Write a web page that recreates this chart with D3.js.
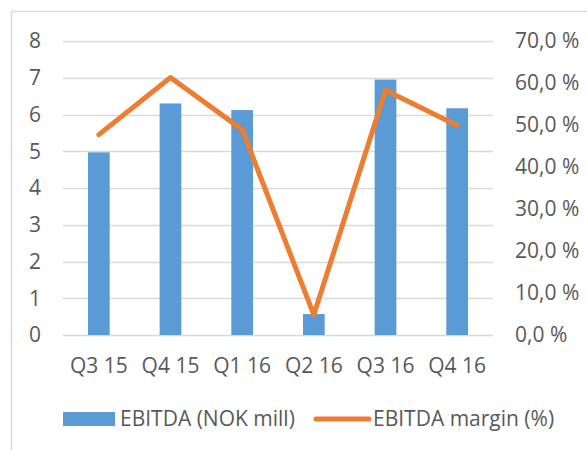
<!DOCTYPE html>
<html>
<head>
<meta charset="utf-8">
<script src="https://cdn.jsdelivr.net/npm/d3@7"></script>
<style>
  body { margin: 0; background: #fff; }
  svg { display: block; }
  text { font-family: "Open Sans", sans-serif; fill: #595959; }
</style>
</head>
<body>
<svg id="chart" width="587" height="450"></svg>
<script>
// data
const quarters = ['Q3 15', 'Q4 15', 'Q1 16', 'Q2 16', 'Q3 16', 'Q4 16'];
const ebitda = [4.97, 6.3, 6.12, 0.57, 6.95, 6.17];          // NOK mill
const margin = [47.7, 61.3, 48.9, 4.8, 58.3, 49.9];          // percent
const leftTicks = [0, 1, 2, 3, 4, 5, 6, 7, 8];
const rightTicks = [0, 10, 20, 30, 40, 50, 60, 70];

const W = 587, H = 450;
const plot = { left: 63, right: 493, top: 41, bottom: 335 };
const FONT = 21;
const BAR_COLOR = '#5B9BD5';
const LINE_COLOR = '#ED7D31';
const GRID = '#D9D9D9';

const svg = d3.select('#chart');

// outer chart border (cut off at right/bottom in the reference)
svg.append('rect')
    .attr('x', 11.5).attr('y', 11.5)
    .attr('width', W + 20).attr('height', H + 20)
    .attr('fill', 'none').attr('stroke', GRID).attr('stroke-width', 1.5);

const x = d3.scaleBand().domain(quarters).range([plot.left, plot.right]).paddingInner(0).paddingOuter(0);
const yL = d3.scaleLinear().domain([0, 8]).range([plot.bottom, plot.top]);
const yR = d3.scaleLinear().domain([0, 70]).range([plot.bottom, plot.top]);

// gridlines
svg.append('g').selectAll('line')
    .data(leftTicks)
    .join('line')
    .attr('x1', plot.left).attr('x2', plot.right)
    .attr('y1', d => Math.round(yL(d)) + 0.5).attr('y2', d => Math.round(yL(d)) + 0.5)
    .attr('stroke', GRID).attr('stroke-width', 1.5);

// left axis labels
svg.append('g').selectAll('text')
    .data(leftTicks)
    .join('text')
    .attr('x', 41).attr('y', d => yL(d))
    .attr('dy', '0.35em')
    .attr('text-anchor', 'end')
    .style('font-size', FONT + 'px')
    .text(d => d);

// right axis labels
const fmtPct = d => d3.format('.1f')(d).replace('.', ',') + ' %';
svg.append('g').selectAll('text')
    .data(rightTicks)
    .join('text')
    .attr('x', 515).attr('y', d => yR(d))
    .attr('dy', '0.35em')
    .attr('text-anchor', 'start')
    .style('font-size', FONT + 'px')
    .text(fmtPct);

// bars
const barW = x.bandwidth() * 0.303;
svg.append('g').selectAll('rect')
    .data(quarters.map((q, i) => ({ q, v: ebitda[i] })))
    .join('rect')
    .attr('x', d => x(d.q) + x.bandwidth() / 2 - barW / 2)
    .attr('y', d => yL(d.v))
    .attr('width', barW)
    .attr('height', d => yL(0) - yL(d.v))
    .attr('fill', BAR_COLOR);

// margin line
const line = d3.line()
    .x((d, i) => x(quarters[i]) + x.bandwidth() / 2)
    .y(d => yR(d));
svg.append('path')
    .datum(margin)
    .attr('d', line)
    .attr('fill', 'none')
    .attr('stroke', LINE_COLOR)
    .attr('stroke-width', 5)
    .attr('stroke-linejoin', 'round')
    .attr('stroke-linecap', 'round');

// category labels
svg.append('g').selectAll('text')
    .data(quarters)
    .join('text')
    .attr('x', d => x(d) + x.bandwidth() / 2)
    .attr('y', 366)
    .attr('dy', '0.35em')
    .attr('text-anchor', 'middle')
    .style('font-size', FONT + 'px')
    .text(d => d);

// legend
const lg = svg.append('g');
lg.append('rect')
    .attr('x', 63).attr('y', 412).attr('width', 52).attr('height', 14)
    .attr('fill', BAR_COLOR);
lg.append('text')
    .attr('x', 120).attr('y', 419).attr('dy', '0.35em')
    .style('font-size', FONT + 'px')
    .text('EBITDA (NOK mill)');
lg.append('line')
    .attr('x1', 316).attr('x2', 369).attr('y1', 419).attr('y2', 419)
    .attr('stroke', LINE_COLOR).attr('stroke-width', 5).attr('stroke-linecap', 'round');
lg.append('text')
    .attr('x', 373).attr('y', 419).attr('dy', '0.35em')
    .style('font-size', FONT + 'px')
    .text('EBITDA margin (%)');
</script>
</body>
</html>
